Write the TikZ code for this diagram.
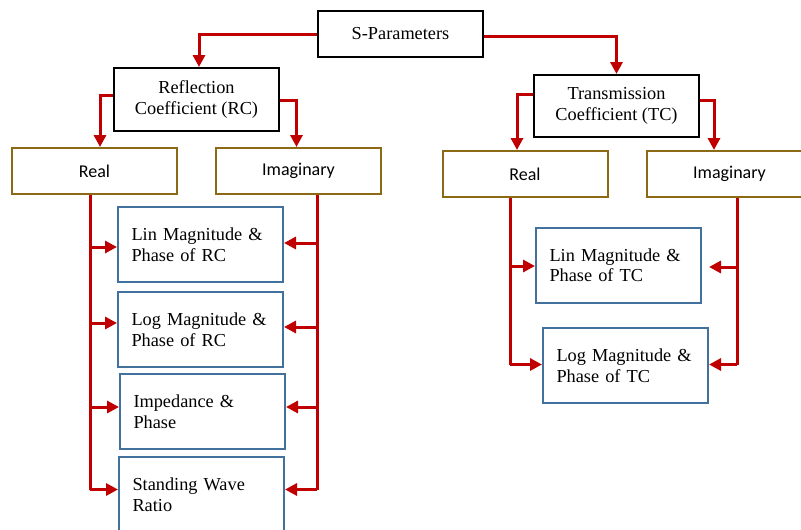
\documentclass[tikz,border=0pt]{standalone}
\usepackage{fontspec}
\setmainfont{Liberation Serif}
\newfontfamily\labelsans{Carlito}
\usetikzlibrary{arrows.meta}
\definecolor{arrowred}{RGB}{192,0,0}
\definecolor{goldframe}{RGB}{140,105,20}
\definecolor{blueframe}{RGB}{65,113,156}
\begin{document}
\begin{tikzpicture}[x=1pt,y=-1pt,
  every node/.style={font=\fontsize{18.3}{20.5}\selectfont, inner sep=0pt},
  topbox/.style={draw=black, line width=2pt, fill=white, minimum width=165pt, align=center},
  partbox/.style={draw=goldframe, line width=2pt, fill=white, minimum width=165pt, minimum height=46pt, font=\labelsans\fontsize{18}{20}\selectfont},
  resultbox/.style={draw=blueframe, line width=2pt, fill=white, minimum width=165pt, minimum height=75pt, text width=138pt, align=left},
  link/.style={draw=arrowred, line width=3pt},
  arr/.style={link, -{Triangle[length=12pt,width=12pt]}}
]
\useasboundingbox (0,0) rectangle (801,530);

% top level
\node[topbox, minimum height=46pt] (sp) at (400.5,34) {S-Parameters};
\node[topbox, minimum height=63pt] (rc) at (196.5,99.5) {Reflection\\Coefficient (RC)};
\node[topbox, minimum height=62pt] (tc) at (616.5,106) {Transmission\\Coefficient (TC)};

% real / imaginary parts
\node[partbox] (reL) at (94.5,171) {Real};
\node[partbox] (imL) at (298.5,171) {Imaginary};
\node[partbox] (reR) at (525,174) {Real};
\node[partbox] (imR) at (729.5,174) {Imaginary};

% derived quantities, reflection side
\node[resultbox] (linrc) at (200.5,244.5) {Lin Magnitude \&\\Phase of RC};
\node[resultbox] (logrc) at (200.5,329.5) {Log Magnitude \&\\Phase of RC};
\node[resultbox] (imp)   at (202.5,411.5) {Impedance \&\\Phase};
\node[resultbox] (swr)   at (201.5,494.5) {Standing Wave\\Ratio};

% derived quantities, transmission side
\node[resultbox] (lintc) at (618.5,265) {Lin Magnitude \&\\Phase of TC};
\node[resultbox] (logtc) at (625.5,365.5) {Log Magnitude \&\\Phase of TC};

% S-parameters to the two coefficients
\draw[arr] (sp.west) -| ([xshift=2.5pt]rc.north);
\draw[arr] ([yshift=-2pt]sp.east) -| (tc.north);

% coefficients to their real / imaginary parts
\draw[arr] ([yshift=4pt]rc.west) -| ([xshift=5.5pt]reL.north);
\draw[arr] ([yshift=-1pt]rc.east) -| ([xshift=-2pt]imL.north);
\draw[arr] ([yshift=12pt]tc.west) -| ([xshift=-8pt]reR.north);
\draw[arr] ([yshift=6pt]tc.east) -| ([xshift=-15.5pt]imR.north);

% reflection side: trunks from the parts
\coordinate (trL) at (90,0);
\coordinate (tiL) at (317,0);
\draw[link] (reL.south -| trL) -- ([yshift=5pt]swr.west -| trL);
\draw[link] (imL.south -| tiL) -- ([yshift=5pt]swr.east -| tiL);
\draw[arr] ([yshift=-2.5pt]linrc.west -| trL) -- ([yshift=-2.5pt]linrc.west);
\draw[arr] ([yshift=1.5pt]linrc.east -| tiL) -- ([yshift=1.5pt]linrc.east);
\draw[arr] ([yshift=6.5pt]logrc.west -| trL) -- ([yshift=6.5pt]logrc.west);
\draw[arr] ([yshift=2.5pt]logrc.east -| tiL) -- ([yshift=2.5pt]logrc.east);
\draw[arr] ([yshift=4.5pt]imp.west -| trL) -- ([yshift=4.5pt]imp.west);
\draw[arr] ([yshift=4.5pt]imp.east -| tiL) -- ([yshift=4.5pt]imp.east);
\draw[arr] ([yshift=5pt]swr.west -| trL) -- ([yshift=5pt]swr.west);
\draw[arr] ([yshift=5pt]swr.east -| tiL) -- ([yshift=5pt]swr.east);

% transmission side: trunks from the parts
\coordinate (trR) at (510,0);
\coordinate (tiR) at (737,0);
\draw[link] (reR.south -| trR) -- ([yshift=1pt]logtc.west -| trR);
\draw[link] (imR.south -| tiR) -- ([yshift=1pt]logtc.east -| tiR);
\draw[arr] ([yshift=-1pt]lintc.west -| trR) -- ([yshift=-1pt]lintc.west);
\draw[arr] ([yshift=-2pt]lintc.east -| tiR) -- ([xshift=7pt,yshift=-2pt]lintc.east);
\draw[arr] ([yshift=1pt]logtc.west -| trR) -- ([yshift=1pt]logtc.west);
\draw[arr] ([yshift=1pt]logtc.east -| tiR) -- ([yshift=1pt]logtc.east);
\end{tikzpicture}
\end{document}
